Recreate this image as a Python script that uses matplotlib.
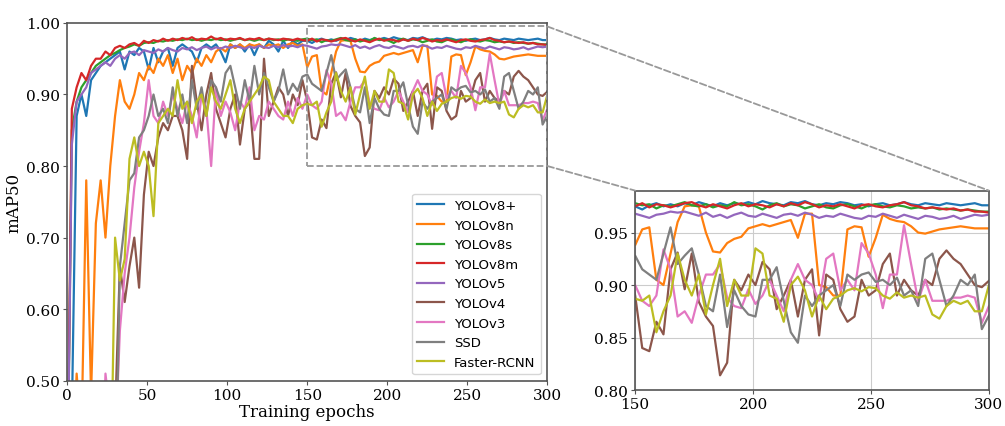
import numpy as np
import matplotlib
matplotlib.use("Agg")
import matplotlib.pyplot as plt
from matplotlib.patches import Rectangle, ConnectionPatch

# epochs sampled every 3 training epochs
epochs = np.arange(0, 301, 3)

yolov8_plus = [
    0.30, 0.45, 0.87, 0.90, 0.87, 0.92, 0.93, 0.94, 0.945, 0.95,
    0.955, 0.96, 0.935, 0.96, 0.955, 0.965, 0.96, 0.935, 0.965, 0.945,
    0.96, 0.965, 0.94, 0.965, 0.97, 0.965, 0.96, 0.945, 0.965, 0.97,
    0.965, 0.97, 0.96, 0.945, 0.97, 0.965, 0.97, 0.96, 0.97, 0.955,
    0.97, 0.965, 0.975, 0.97, 0.96, 0.975, 0.965, 0.975, 0.97, 0.975,
    0.975, 0.972, 0.976, 0.978, 0.975, 0.977, 0.975, 0.978, 0.976, 0.979,
    0.977, 0.975, 0.978, 0.976, 0.978, 0.977, 0.979, 0.977, 0.98, 0.978,
    0.977, 0.976, 0.979, 0.978, 0.98, 0.977, 0.976, 0.978, 0.977, 0.979,
    0.978, 0.976, 0.977, 0.975, 0.977, 0.978, 0.976, 0.977, 0.979, 0.977,
    0.976, 0.978, 0.977, 0.976, 0.978, 0.977, 0.976, 0.977, 0.978, 0.976,
    0.976]
yolov8n = [
    0.30, 0.35, 0.51, 0.42, 0.78, 0.48, 0.72, 0.78, 0.70, 0.80,
    0.87, 0.92, 0.89, 0.88, 0.90, 0.93, 0.92, 0.94, 0.93, 0.95,
    0.94, 0.955, 0.93, 0.95, 0.92, 0.94, 0.93, 0.95, 0.94, 0.955,
    0.945, 0.96, 0.965, 0.96, 0.97, 0.965, 0.97, 0.965, 0.97, 0.968,
    0.97, 0.965, 0.97, 0.968, 0.97, 0.965, 0.97, 0.972, 0.968, 0.97,
    0.938, 0.953, 0.955, 0.905, 0.90, 0.93, 0.96, 0.975, 0.976, 0.975,
    0.95, 0.932, 0.931, 0.94, 0.944, 0.946, 0.954, 0.956, 0.958, 0.956,
    0.958, 0.96, 0.962, 0.945, 0.968, 0.968, 0.90, 0.898, 0.89, 0.89,
    0.953, 0.956, 0.955, 0.927, 0.945, 0.967, 0.963, 0.961, 0.96, 0.956,
    0.95, 0.949, 0.951, 0.953, 0.954, 0.955, 0.956, 0.955, 0.954, 0.954,
    0.954]
yolov8s = [
    0.30, 0.85, 0.89, 0.91, 0.92, 0.93, 0.94, 0.945, 0.95, 0.955,
    0.958, 0.962, 0.965, 0.967, 0.97, 0.968, 0.972, 0.973, 0.972, 0.975,
    0.974, 0.976, 0.975, 0.977, 0.976, 0.978, 0.976, 0.977, 0.975, 0.977,
    0.976, 0.978, 0.976, 0.977, 0.975, 0.977, 0.978, 0.976, 0.977, 0.975,
    0.977, 0.976, 0.978, 0.976, 0.977, 0.975, 0.977, 0.976, 0.975, 0.977,
    0.978, 0.976, 0.977, 0.973, 0.976, 0.975, 0.977, 0.979, 0.976, 0.975,
    0.977, 0.974, 0.976, 0.975, 0.979, 0.976, 0.977, 0.975, 0.972, 0.976,
    0.978, 0.975, 0.977, 0.976, 0.973, 0.975, 0.977, 0.974, 0.973, 0.976,
    0.977, 0.975, 0.973, 0.976, 0.977, 0.975, 0.974, 0.976, 0.975, 0.973,
    0.974, 0.973, 0.974, 0.972, 0.973, 0.972, 0.971, 0.972, 0.971, 0.970,
    0.970]
yolov8m = [
    0.30, 0.88, 0.91, 0.93, 0.92, 0.94, 0.95, 0.95, 0.96, 0.955,
    0.965, 0.968, 0.965, 0.97, 0.972, 0.968, 0.975, 0.972, 0.976, 0.974,
    0.978, 0.975, 0.978, 0.976, 0.979, 0.977, 0.98, 0.976, 0.978, 0.977,
    0.981, 0.977, 0.979, 0.976, 0.978, 0.977, 0.979, 0.976, 0.978, 0.977,
    0.979, 0.976, 0.978, 0.977, 0.976, 0.978, 0.977, 0.976, 0.978, 0.976,
    0.975, 0.978, 0.974, 0.977, 0.976, 0.974, 0.976, 0.978, 0.979, 0.976,
    0.974, 0.977, 0.975, 0.973, 0.976, 0.978, 0.975, 0.977, 0.976, 0.974,
    0.977, 0.975, 0.978, 0.976, 0.979, 0.977, 0.974, 0.976, 0.975, 0.977,
    0.975, 0.973, 0.976, 0.977, 0.975, 0.974, 0.976, 0.977, 0.979, 0.976,
    0.975, 0.973, 0.974, 0.973, 0.972, 0.973, 0.971, 0.972, 0.970, 0.970,
    0.969]
yolov5 = [
    0.30, 0.83, 0.89, 0.90, 0.91, 0.93, 0.935, 0.94, 0.945, 0.94,
    0.95, 0.955, 0.95, 0.958, 0.96, 0.955, 0.962, 0.96, 0.958, 0.963,
    0.96, 0.965, 0.962, 0.96, 0.965, 0.963, 0.966, 0.962, 0.965, 0.967,
    0.963, 0.966, 0.964, 0.967, 0.965, 0.968, 0.966, 0.964, 0.967, 0.965,
    0.968, 0.966, 0.965, 0.968, 0.966, 0.969, 0.967, 0.968, 0.966, 0.969,
    0.968, 0.966, 0.964, 0.967, 0.968, 0.97, 0.969, 0.97, 0.968, 0.966,
    0.969, 0.965, 0.967, 0.964, 0.967, 0.969, 0.966, 0.965, 0.968, 0.966,
    0.964, 0.967, 0.968, 0.966, 0.969, 0.967, 0.964, 0.966, 0.965, 0.968,
    0.966, 0.964, 0.963, 0.966, 0.965, 0.968, 0.966, 0.964, 0.967, 0.965,
    0.963, 0.966, 0.965, 0.963, 0.964, 0.966, 0.963, 0.965, 0.967, 0.966,
    0.967]
yolov4 = [
    0.30, 0.30, 0.30, 0.30, 0.30, 0.30, 0.30, 0.30, 0.30, 0.30,
    0.45, 0.66, 0.61, 0.66, 0.70, 0.63, 0.76, 0.82, 0.80, 0.84,
    0.86, 0.85, 0.87, 0.87, 0.85, 0.81, 0.94, 0.89, 0.85, 0.90,
    0.93, 0.88, 0.86, 0.84, 0.88, 0.90, 0.83, 0.88, 0.89, 0.81,
    0.81, 0.95, 0.87, 0.89, 0.91, 0.90, 0.87, 0.90, 0.885, 0.92,
    0.89, 0.84, 0.837, 0.865, 0.853, 0.915, 0.931, 0.896, 0.93, 0.884,
    0.87, 0.861, 0.814, 0.826, 0.905, 0.895, 0.91, 0.90, 0.922, 0.915,
    0.877, 0.89, 0.905, 0.87, 0.905, 0.915, 0.852, 0.91, 0.905, 0.877,
    0.865, 0.87, 0.905, 0.89, 0.895, 0.92, 0.93, 0.89, 0.905, 0.895,
    0.89, 0.905, 0.90, 0.925, 0.933, 0.925, 0.92, 0.91, 0.90, 0.898,
    0.904]
yolov3 = [
    0.30, 0.30, 0.30, 0.30, 0.30, 0.30, 0.30, 0.30, 0.51, 0.45,
    0.40, 0.57, 0.65, 0.70, 0.77, 0.82, 0.86, 0.92, 0.87, 0.86,
    0.89, 0.87, 0.90, 0.88, 0.86, 0.89, 0.87, 0.84, 0.90, 0.88,
    0.80, 0.91, 0.87, 0.89, 0.875, 0.85, 0.89, 0.88, 0.91, 0.85,
    0.87, 0.865, 0.89, 0.88, 0.87, 0.865, 0.89, 0.87, 0.895, 0.88,
    0.90, 0.885, 0.88, 0.89, 0.934, 0.915, 0.87, 0.875, 0.864, 0.89,
    0.91, 0.91, 0.92, 0.888, 0.88, 0.878, 0.896, 0.882, 0.89, 0.905,
    0.89, 0.875, 0.905, 0.92, 0.905, 0.90, 0.885, 0.925, 0.93, 0.895,
    0.905, 0.895, 0.94, 0.93, 0.91, 0.878, 0.91, 0.91, 0.957, 0.92,
    0.885, 0.905, 0.885, 0.885, 0.885, 0.888, 0.888, 0.89, 0.888, 0.864,
    0.88]
ssd = [
    0.30, 0.30, 0.30, 0.30, 0.30, 0.30, 0.30, 0.30, 0.30, 0.30,
    0.30, 0.66, 0.72, 0.78, 0.79, 0.84, 0.85, 0.87, 0.90, 0.87,
    0.88, 0.86, 0.91, 0.87, 0.90, 0.86, 0.92, 0.88, 0.91, 0.87,
    0.92, 0.91, 0.89, 0.93, 0.94, 0.91, 0.88, 0.92, 0.89, 0.94,
    0.90, 0.93, 0.91, 0.89, 0.905, 0.935, 0.90, 0.915, 0.905, 0.925,
    0.928, 0.915, 0.91, 0.905, 0.93, 0.955, 0.92, 0.928, 0.935, 0.91,
    0.88, 0.875, 0.91, 0.86, 0.895, 0.88, 0.872, 0.87, 0.905, 0.905,
    0.917, 0.885, 0.855, 0.845, 0.89, 0.88, 0.89, 0.895, 0.90, 0.88,
    0.91, 0.905, 0.91, 0.912, 0.903, 0.905, 0.90, 0.907, 0.89, 0.895,
    0.88, 0.925, 0.93, 0.905, 0.88, 0.89, 0.905, 0.90, 0.91, 0.858,
    0.871]
faster_rcnn = [
    0.30, 0.30, 0.30, 0.30, 0.30, 0.30, 0.30, 0.30, 0.30, 0.30,
    0.70, 0.64, 0.67, 0.81, 0.84, 0.80, 0.82, 0.80, 0.73, 0.86,
    0.87, 0.88, 0.87, 0.92, 0.88, 0.89, 0.86, 0.89, 0.90, 0.87,
    0.91, 0.89, 0.88, 0.90, 0.92, 0.88, 0.86, 0.88, 0.89, 0.90,
    0.91, 0.925, 0.92, 0.89, 0.88, 0.87, 0.87, 0.86, 0.88, 0.885,
    0.887, 0.885, 0.89, 0.855, 0.875, 0.89, 0.93, 0.905, 0.89, 0.91,
    0.872, 0.90, 0.925, 0.88, 0.905, 0.89, 0.89, 0.935, 0.93, 0.89,
    0.887, 0.865, 0.90, 0.908, 0.895, 0.87, 0.89, 0.877, 0.887, 0.89,
    0.895, 0.897, 0.894, 0.898, 0.897, 0.89, 0.887, 0.893, 0.888, 0.89,
    0.888, 0.89, 0.872, 0.868, 0.88, 0.885, 0.882, 0.885, 0.875, 0.875,
    0.90]

names = ['YOLOv8+', 'YOLOv8n', 'YOLOv8s', 'YOLOv8m', 'YOLOv5',
         'YOLOv4', 'YOLOv3', 'SSD', 'Faster-RCNN']
series = [yolov8_plus, yolov8n, yolov8s, yolov8m, yolov5,
          yolov4, yolov3, ssd, faster_rcnn]
colors = ['#1f77b4', '#ff7f0e', '#2ca02c', '#d62728', '#9467bd',
          '#8c564b', '#e377c2', '#7f7f7f', '#bcbd22']

spine_col = '#555555'
serif = 'DejaVu Serif'

fig = plt.figure(figsize=(10.05, 4.27), dpi=100)
ax = fig.add_axes([0.0667, 0.106, 0.478, 0.838])
axin = fig.add_axes([0.632, 0.0843, 0.352, 0.467])

for vals, name, c in zip(series, names, colors):
    ax.plot(epochs, vals, color=c, lw=1.6, label=name)
    axin.plot(epochs, vals, color=c, lw=1.6)

ax.set_xlim(0, 300)
ax.set_ylim(0.5, 1.0)
ax.set_xticks([0, 50, 100, 150, 200, 250, 300])
ax.set_yticks([0.5, 0.6, 0.7, 0.8, 0.9, 1.0])
ax.set_yticklabels(['%.2f' % v for v in ax.get_yticks()])
ax.set_xlabel('Training epochs', family=serif, fontsize=12, labelpad=1)
ax.set_ylabel('mAP50', family=serif, fontsize=12, labelpad=3)

axin.set_xlim(150, 300)
axin.set_ylim(0.80, 0.99)
axin.set_xticks([150, 200, 250, 300])
axin.set_yticks([0.80, 0.85, 0.90, 0.95])
axin.set_yticklabels(['%.2f' % v for v in axin.get_yticks()])
axin.grid(True, color='#cccccc', lw=0.8)
axin.set_axisbelow(True)

for a in (ax, axin):
    for s in a.spines.values():
        s.set_color(spine_col)
        s.set_linewidth(1.2)
    a.tick_params(colors='black', labelsize=11, length=3, color=spine_col,
                  pad=2)
    for lab in a.get_xticklabels() + a.get_yticklabels():
        lab.set_family(serif)

leg = ax.legend(loc='lower right', fontsize=9.5, frameon=True,
                fancybox=True, labelspacing=0.5, handlelength=2.0)
leg.get_frame().set_edgecolor('#cccccc')

# zoom region marker and connector lines
rect = Rectangle((150, 0.80), 150, 0.195, fill=False, ls='--',
                 ec='#999999', lw=1.3, zorder=5)
ax.add_patch(rect)
con1 = ConnectionPatch(xyA=(300, 0.995), coordsA=ax.transData,
                       xyB=(300, 0.99), coordsB=axin.transData,
                       ls='--', color='#999999', lw=1.3)
con2 = ConnectionPatch(xyA=(300, 0.80), coordsA=ax.transData,
                       xyB=(150, 0.99), coordsB=axin.transData,
                       ls='--', color='#999999', lw=1.3)
fig.add_artist(con1)
fig.add_artist(con2)

fig.savefig('out.png', dpi=100)
